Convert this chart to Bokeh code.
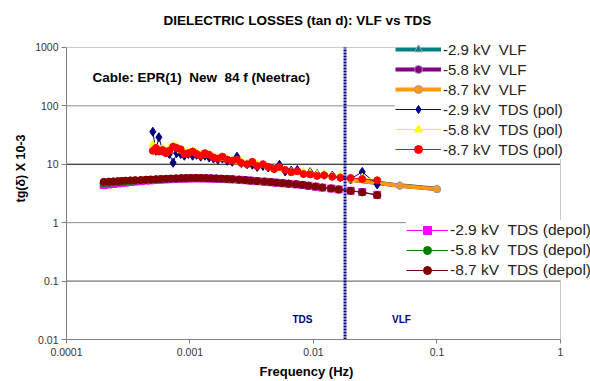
from bokeh.plotting import figure
from bokeh.models import Legend, LegendItem, Label, FixedTicker, Title
from bokeh.embed import file_html
from bokeh.resources import INLINE

# ---------------- data ----------------
x_ticks = [0.0001, 0.001, 0.01, 0.1, 1]
x_tick_labels = ["0.0001", "0.001", "0.01", "0.1", "1"]
y_ticks = [0.01, 0.1, 1, 10, 100, 1000]
y_tick_labels = ["0.01", "0.1", "1", "10", "100", "1000"]

vlf_freq = [0.02, 0.05, 0.1]
vlf_29 = [5.5, 4.35, 3.8]
vlf_58 = [5.45, 4.3, 3.75]
vlf_87 = [5.4, 4.3, 3.75]

pol_freq = [0.0005, 0.00053, 0.00056, 0.0006, 0.00064, 0.00068, 0.00073, 0.00078,
            0.00084, 0.0009, 0.00097, 0.00105, 0.00113, 0.00122, 0.00132, 0.00143,
            0.00155, 0.00168, 0.00183, 0.002, 0.0022, 0.0024, 0.0026, 0.0029,
            0.0032, 0.0035, 0.0039, 0.0043, 0.0048, 0.0053, 0.0059, 0.0066,
            0.0074, 0.0083, 0.0094, 0.0107, 0.0122, 0.0142, 0.0165, 0.02,
            0.0248, 0.0328]
pol_29 = [36, 17, 29, 17, 16, 15, 10.6, 15.5, 15, 14, 15, 14, 14.5, 13.5, 14, 13,
          12.5, 12, 12.5, 11.5, 11, 13.5, 10.5, 10, 9.8, 9, 9.3, 8.8, 8.5, 9.8, 7.5,
          7.8, 8.0, 7.0, 7.3, 6.8, 6.6, 6.4, 6.0, 5.6, 7.4, 4.5]
pol_58 = [22, 20, 18, 19, 17, 18.5, 21, 20, 17, 16.5, 16, 17, 16, 15, 14.5, 15,
          13.5, 13, 12.5, 12.5, 12, 11, 11.5, 10.5, 10.5, 10, 9.5, 9, 8.5, 8.5,
          7.8, 7.5, 7.2, 7.5, 7.2, 6.8, 7.0, 6.3, 6.5, 5.4, 6.0, 5.3]
pol_87 = [17, 19, 16.5, 17.5, 15.5, 17, 20, 19, 18, 15, 15.5, 16.5, 15, 14, 15.5,
          14.5, 13, 12.5, 13.5, 12, 11.5, 12, 10.5, 10, 11, 9.3, 10, 9, 8.3, 9, 8,
          7.3, 7.6, 6.8, 6.7, 6.3, 6.5, 6.1, 5.9, 5.8, 5.6, 5.3]

depol_freq = [0.0002, 0.00022, 0.00024, 0.00026, 0.00028, 0.0003, 0.00033, 0.00036,
              0.0004, 0.00044, 0.00048, 0.00053, 0.00058, 0.00064, 0.0007, 0.00077,
              0.00085, 0.00093, 0.00102, 0.00112, 0.00123, 0.00135, 0.00148, 0.00163,
              0.0018, 0.002, 0.0022, 0.0025, 0.0028, 0.0031, 0.0035, 0.004, 0.0045,
              0.005, 0.0056, 0.0063, 0.0072, 0.0081, 0.0091, 0.0104, 0.0118, 0.0139,
              0.016, 0.02, 0.0248, 0.0328]
depol_29 = [4.4, 4.5, 4.6, 4.7, 4.8, 4.85, 4.95, 5.05, 5.15, 5.25, 5.3, 5.4, 5.45,
            5.5, 5.55, 5.6, 5.65, 5.68, 5.7, 5.72, 5.72, 5.7, 5.68, 5.65, 5.6, 5.55,
            5.5, 5.42, 5.33, 5.23, 5.13, 5.03, 4.93, 4.83, 4.73, 4.63, 4.52, 4.42,
            4.28, 4.13, 3.98, 3.84, 3.7, 3.52, 3.35, 3.0]
depol_58 = [4.7, 4.78, 4.85, 4.92, 5.0, 5.05, 5.12, 5.2, 5.28, 5.35, 5.4, 5.48, 5.53,
            5.58, 5.63, 5.66, 5.7, 5.72, 5.74, 5.75, 5.74, 5.72, 5.7, 5.67, 5.62,
            5.57, 5.52, 5.43, 5.34, 5.24, 5.14, 5.04, 4.94, 4.84, 4.74, 4.64, 4.53,
            4.43, 4.29, 4.14, 3.99, 3.84, 3.7, 3.51, 3.32, 2.97]
depol_87 = [5.0, 5.05, 5.1, 5.15, 5.2, 5.25, 5.3, 5.35, 5.4, 5.45, 5.5, 5.55, 5.6,
            5.65, 5.7, 5.75, 5.8, 5.82, 5.85, 5.85, 5.83, 5.8, 5.77, 5.73, 5.68,
            5.62, 5.56, 5.47, 5.37, 5.27, 5.17, 5.06, 4.96, 4.86, 4.76, 4.66, 4.55,
            4.45, 4.3, 4.15, 4.0, 3.85, 3.7, 3.5, 3.3, 2.95]

boundary_freq = 0.018

FONT = "Liberation Sans"
X0, X1 = x_ticks[0], x_ticks[-1]
Y0, Y1 = y_ticks[0], y_ticks[-1]

# ---------------- figure ----------------
# the frame runs past the drawn plot box (to the right and top) so the
# legends, which overlap the box edge in the original, are not clipped
p = figure(width=590, height=381, x_axis_type="log", y_axis_type="log",
           x_range=(X0, 1.75), y_range=(Y0, 1800),
           output_backend="svg", toolbar_location=None,
           min_border_left=66, min_border_right=0, min_border_top=32,
           min_border_bottom=42)
p.outline_line_color = None
p.background_fill_color = "white"

p.title.text = "DIELECTRIC LOSSES (tan d): VLF vs TDS"
p.title.align = "left"
p.title.offset = 97
p.title.text_font = FONT
p.title.text_font_style = "bold"
p.title.text_font_size = "13.5px"
p.title.text_color = "black"

# axes
for ax, ticks, labels in ((p.xaxis[0], x_ticks, x_tick_labels),
                          (p.yaxis[0], y_ticks, y_tick_labels)):
    ax.ticker = FixedTicker(ticks=ticks)
    ax.major_label_overrides = dict(zip(ticks, labels))
    ax.bounds = (ticks[0], ticks[-1])
    ax.axis_line_color = "#808080"
    ax.major_tick_line_color = "#808080"
    ax.major_tick_in = 0
    ax.minor_tick_line_color = None
    ax.major_label_text_font = FONT
    ax.major_label_text_font_size = "10.5px"
    ax.major_label_text_color = "#333333"
p.xaxis.major_tick_out = 4
p.xaxis.major_label_standoff = 4
p.yaxis.major_tick_out = 5
p.yaxis.major_label_standoff = 3

p.add_layout(Title(text="Frequency (Hz)", align="left", offset=193, standoff=6,
                   text_font=FONT, text_font_style="bold", text_font_size="13px",
                   text_color="black"), "below")
p.add_layout(Title(text="tg(\u03b4) X 10-3", align="left", offset=137, standoff=10,
                   text_font=FONT, text_font_style="bold", text_font_size="12.5px",
                   text_color="black"), "left")

# grid lines and plot box
p.xgrid.visible = False
p.ygrid.visible = False
grid_colors = {0.1: "#555555", 1: "#8c8c8c", 10: "black", 100: "#8c8c8c", 1000: "#c8c8c8"}
for t in y_ticks[1:]:
    p.line([X0, X1], [t, t], line_color=grid_colors[t], line_width=1)
p.line([X1, X1], [Y0, Y1], line_color="#c8c8c8", line_width=1)

# ---------------- series ----------------
TEAL, PURPLE, ORANGE = "#008080", "#800080", "#FF9900"
NAVY, YELLOW, RED = "#000080", "#FFFF00", "#FF0000"
MAGENTA, GREEN, DRED = "#FF00FF", "#008000", "#800000"

items1 = []
for vals, col, mk, lab in ((vlf_29, TEAL, "triangle", "-2.9 kV\u00a0 VLF"),
                           (vlf_58, PURPLE, "circle", "-5.8 kV\u00a0 VLF"),
                           (vlf_87, ORANGE, "circle", "-8.7 kV\u00a0 VLF")):
    l = p.line(vlf_freq, vals, line_color=col, line_width=4)
    s = p.scatter(vlf_freq, vals, marker=mk, size=7, fill_color=col, line_color="#9a9aaa")
    items1.append(LegendItem(label=lab, renderers=[l, s]))

for vals, col, mk, sz, lab in ((pol_29, NAVY, "diamond", 9, "-2.9 kV\u00a0 TDS (pol)"),
                               (pol_58, YELLOW, "triangle", 7, "-5.8 kV\u00a0 TDS (pol)"),
                               (pol_87, RED, "circle", 7, "-8.7 kV\u00a0 TDS (pol)")):
    l = p.line(pol_freq, vals, line_color=col, line_width=1)
    s = p.scatter(pol_freq, vals, marker=mk, size=sz, fill_color=col, line_color=col)
    items1.append(LegendItem(label=lab, renderers=[l, s]))

items2 = []
for vals, col, mk, lab in ((depol_29, MAGENTA, "square", "-2.9 kV\u00a0 TDS (depol)"),
                           (depol_58, GREEN, "circle", "-5.8 kV\u00a0 TDS (depol)"),
                           (depol_87, DRED, "circle", "-8.7 kV\u00a0 TDS (depol)")):
    l = p.line(depol_freq, vals, line_color=col, line_width=1)
    s = p.scatter(depol_freq, vals, marker=mk, size=7, fill_color=col, line_color=col)
    items2.append(LegendItem(label=lab, renderers=[l, s]))

# boundary between TDS and VLF
p.line([boundary_freq, boundary_freq], [Y0, Y1], line_color=NAVY, line_width=3,
       line_dash="2 1")

# ---------------- legends ----------------
def make_legend(items, loc, gw, fs):
    return Legend(items=items, location=loc, orientation="vertical",
                  glyph_width=gw, glyph_height=20, label_height=20, spacing=0,
                  padding=1, margin=0, label_standoff=2,
                  border_line_color=None, background_fill_color="white",
                  background_fill_alpha=1.0,
                  label_text_font=FONT, label_text_font_size=fs,
                  label_text_color="#222222")

p.add_layout(make_legend(items1, (329, 180), 46, "15px"))
p.add_layout(make_legend(items2, (340, 59), 42, "15.5px"))

# ---------------- texts ----------------
p.add_layout(Label(x=26, y=262, x_units="screen", y_units="screen",
                   text="Cable: EPR(1)\u00a0 New\u00a0 84 f (Neetrac)",
                   text_font=FONT, text_font_style="bold", text_font_size="13.5px",
                   text_align="left", text_baseline="middle", text_color="black"))
p.add_layout(Label(x=236, y=20, x_units="screen", y_units="screen", text="TDS",
                   text_font=FONT, text_font_style="bold", text_font_size="10px",
                   text_align="center", text_baseline="middle", text_color=NAVY))
p.add_layout(Label(x=335, y=20, x_units="screen", y_units="screen", text="VLF",
                   text_font=FONT, text_font_style="bold", text_font_size="10px",
                   text_align="center", text_baseline="middle", text_color=NAVY))

open("out.html", "w").write(file_html(p, INLINE))
